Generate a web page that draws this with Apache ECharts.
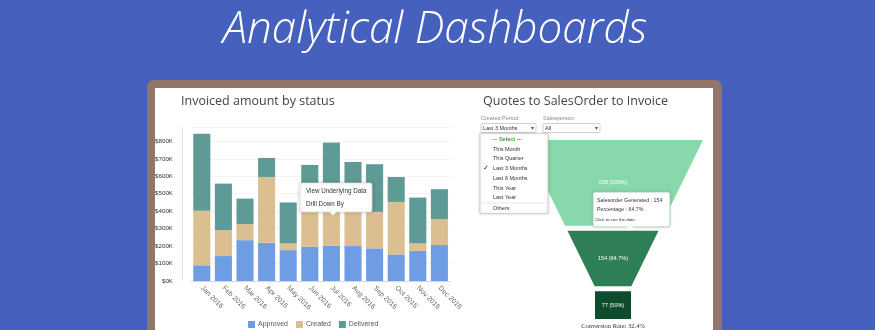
<!DOCTYPE html>
<html>
<head>
<meta charset="utf-8">
<script src="https://cdn.jsdelivr.net/npm/echarts@6/dist/echarts.min.js"></script>
<style>
  html, body { margin: 0; padding: 0; background: #4561bd; }
  #main { width: 875px; height: 330px; }
</style>
</head>
<body>
<div id="main"></div>
<script>
// invoiced amount by status (in dollars)
var months = ['Jan 2016', 'Feb 2016', 'Mar 2016', 'Apr 2016', 'May 2016', 'Jun 2016',
              'Jul 2016', 'Aug 2016', 'Sep 2016', 'Oct 2016', 'Nov 2016', 'Dec 2016'];
var approved  = [90000, 143000, 234000, 219000, 177000, 196000, 202000, 200000, 187000, 152000, 173000, 206000];
var created   = [312000, 148000, 92000, 377000, 38000, 324000, 328000, 300000, 209000, 301000, 42000, 148000];
var delivered = [442000, 267000, 146000, 109000, 235000, 145000, 263000, 182000, 273000, 143000, 263000, 172000];

// quotes -> sales order -> invoice
var stageNames  = ['Quotes Created', 'Salesorder Generated', 'Invoiced'];
var stageValues = [238, 154, 77];

var periodOptions = ['This Month', 'This Quarter', 'Last 3 Months', 'Last 6 Months', 'This Year', 'Last Year'];

var barColors = ['#6f9de3', '#dcbf90', '#5f9b96'];
var stageColors = ['#87d8aa', '#2f7f56', '#0d4d2d'];
var FUNNEL_GAP = 5, NECK = 36, SLOPE = 0.98;

var chart = echarts.init(document.getElementById('main'));

// cumulative starts for the funnel layers
var funnelData = [];
var acc = 0;
for (var i = 0; i < stageValues.length; i++) {
  var pct = i === 0 ? 100 : stageValues[i] / stageValues[i - 1] * 100;
  funnelData.push([acc, stageValues[i], +pct.toFixed(1)]);
  acc += stageValues[i];
}
var total = acc;
var convRate = (stageValues[stageValues.length - 1] / stageValues[0] * 100).toFixed(1);

function kfmt(v) { return '$' + Math.round(v / 1000) + 'K'; }

function txt(x, y, s, extra) {
  var st = { text: s, x: x, y: y, fontFamily: 'Liberation Sans', fontSize: 6, fill: '#333', verticalAlign: 'middle' };
  for (var k in extra) st[k] = extra[k];
  return { type: 'text', z: 101, style: st };
}

var graphics = [
  // frame and panel
  { type: 'rect', z: -2, shape: { x: 147, y: 80, width: 575, height: 300, r: 7 }, style: { fill: '#93756a' } },
  { type: 'rect', z: -1, shape: { x: 155, y: 88, width: 558, height: 300 }, style: { fill: '#ffffff' } },
  { type: 'text', z: 5, style: { text: 'Analytical Dashboards', x: 435, y: 30, align: 'center', verticalAlign: 'middle',
      fontFamily: 'Open Sans', fontStyle: 'italic', fontWeight: 300, fontSize: 44, fill: '#ffffff' } },
  { type: 'text', z: 5, style: { text: 'Invoiced amount by status', x: 181, y: 101, verticalAlign: 'middle',
      fontFamily: 'Open Sans', fontSize: 12.5, fill: '#444' } },
  { type: 'text', z: 5, style: { text: 'Quotes to SalesOrder to Invoice', x: 483, y: 101, verticalAlign: 'middle',
      fontFamily: 'Open Sans', fontSize: 12.5, fill: '#444' } },

  // filters
  txt(481, 118, 'Created Period:', { fontSize: 5.5, fill: '#888' }),
  txt(543, 118, 'Salesperson:', { fontSize: 5.5, fill: '#888' }),
  { type: 'rect', z: 100, shape: { x: 481, y: 123.5, width: 55, height: 9, r: 1 }, style: { fill: '#fff', stroke: '#bbb', lineWidth: 0.7 } },
  txt(483, 128, periodOptions[2], { fontSize: 5.5 }),
  txt(532, 128, '▾', { fontSize: 6, align: 'center', fill: '#555' }),
  { type: 'rect', z: 100, shape: { x: 543, y: 123.5, width: 57, height: 9, r: 1 }, style: { fill: '#fff', stroke: '#bbb', lineWidth: 0.7 } },
  txt(545, 128, 'All', { fontSize: 5.5 }),
  txt(596, 128, '▾', { fontSize: 6, align: 'center', fill: '#555' }),

  // dropdown list
  { type: 'rect', z: 100, shape: { x: 480, y: 133.5, width: 68, height: 80 },
    style: { fill: '#fff', stroke: '#ccc', lineWidth: 0.7, shadowBlur: 3, shadowColor: 'rgba(0,0,0,0.2)' } },
  txt(507, 139, '--- Select ---', { fontSize: 5.5, fill: '#3a9a3a', fontWeight: 'bold', align: 'center' }),
  { type: 'line', z: 101, shape: { x1: 481, y1: 203, x2: 547, y2: 203 }, style: { stroke: '#ddd', lineWidth: 0.7 } },
  txt(493, 208, 'Others', { fontSize: 5.5 }),
  txt(483, 168, '✓', { fontSize: 6.5, fill: '#222' }),

  // context menu on bar chart
  { type: 'rect', z: 100, shape: { x: 300, y: 183, width: 72, height: 29, r: 2 },
    style: { fill: '#fff', stroke: '#e2e2e2', lineWidth: 0.7, shadowBlur: 4, shadowColor: 'rgba(0,0,0,0.2)' } },
  { type: 'polygon', z: 100, shape: { points: [[329, 211.5], [337, 211.5], [333, 215.5]] }, style: { fill: '#fff' } },
  txt(306, 191.5, 'View Underlying Data', { fontSize: 6.3, fill: '#333' }),
  txt(306, 204, 'Drill Down By', { fontSize: 6.3, fill: '#333' }),

  // funnel tooltip
  { type: 'rect', z: 100, shape: { x: 593, y: 192, width: 77, height: 35, r: 2 },
    style: { fill: '#fff', stroke: '#9fcfb2', lineWidth: 0.8, shadowBlur: 3, shadowColor: 'rgba(0,0,0,0.15)' } },
  { type: 'polygon', z: 100, shape: { points: [[626, 226.5], [634, 226.5], [630, 231]] }, style: { fill: '#fff' } },
  txt(597, 200.5, stageNames[1] + ' : ' + stageValues[1], { fontSize: 5.3, fill: '#333' }),
  txt(597, 209.5, 'Percentage : ' + funnelData[1][2] + '%', { fontSize: 5.3, fill: '#333' }),
  txt(595, 220, 'Click to see the data', { fontSize: 4.4, fill: '#333' }),

  txt(613, 326, 'Conversion Rate: ' + convRate + '%', { fontSize: 6.5, fill: '#333', align: 'center', fontFamily: 'Liberation Serif' })
];

var optY = [149, 158.5, 168, 178, 188, 197.5];
for (var j = 0; j < periodOptions.length; j++) {
  graphics.push(txt(493, optY[j], periodOptions[j], { fontSize: 5.5 }));
}

chart.setOption({
  backgroundColor: '#4561bd',
  animation: false,
  graphic: { elements: graphics },
  grid: [
    { left: 191, width: 259.2, top: 127.4, height: 153.6 },
    { left: 523, width: 180, top: 140, height: 169 }
  ],
  legend: {
    left: 243, top: 316, itemWidth: 7, itemHeight: 7, itemGap: 8,
    icon: 'rect',
    textStyle: { fontSize: 7, color: '#555', fontFamily: 'Liberation Sans', padding: [0, 0, 0, -2] },
    data: ['Approved', 'Created', 'Delivered']
  },
  xAxis: [
    {
      type: 'category', gridIndex: 0, data: months,
      axisLine: { lineStyle: { color: '#d8d8d8' } },
      axisTick: { show: false },
      axisLabel: { rotate: -45, fontSize: 7, color: '#666', margin: 6, fontFamily: 'Liberation Sans' }
    },
    { type: 'value', gridIndex: 1, min: -1, max: 1, show: false }
  ],
  yAxis: [
    {
      type: 'value', gridIndex: 0, min: 0, max: 880000, interval: 100000, offset: 9,
      axisLine: { show: true, lineStyle: { color: '#e4e4e4' } },
      axisTick: { show: false },
      splitLine: { lineStyle: { color: '#f3f3f3' } },
      axisLabel: { showMaxLabel: false, fontSize: 6.2, color: '#333', margin: 9, fontFamily: 'Liberation Sans',
        formatter: kfmt }
    },
    { type: 'value', gridIndex: 1, min: 0, max: total, inverse: true, show: false }
  ],
  series: [
    { name: 'Approved', type: 'bar', stack: 'amt', data: approved, itemStyle: { color: barColors[0] }, barCategoryGap: '21%' },
    { name: 'Created', type: 'bar', stack: 'amt', data: created, itemStyle: { color: barColors[1] } },
    { name: 'Delivered', type: 'bar', stack: 'amt', data: delivered, itemStyle: { color: barColors[2] } },
    {
      type: 'custom', xAxisIndex: 1, yAxisIndex: 1, data: funnelData,
      renderItem: function (params, api) {
        var idx = params.dataIndex;
        var start = api.value(0), val = api.value(1);
        var cs = params.coordSys;
        var yTop = api.coord([0, start])[1] + idx * FUNNEL_GAP;
        var yBot = api.coord([0, start + val])[1] + idx * FUNNEL_GAP;
        var cx = cs.x + cs.width / 2;
        var w = function (y) { return Math.max(NECK, cs.width - (y - cs.y) * SLOPE); };
        var last = idx === stageValues.length - 1;
        var wt = last ? NECK : w(yTop), wb = last ? NECK : w(yBot);
        return {
          type: 'group',
          children: [
            { type: 'polygon', shape: { points: [[cx - wt / 2, yTop], [cx + wt / 2, yTop], [cx + wb / 2, yBot], [cx - wb / 2, yBot]] },
              style: { fill: stageColors[idx] } },
            { type: 'text', style: { text: val + ' (' + api.value(2) + '%)', x: cx, y: (yTop + yBot) / 2,
                align: 'center', verticalAlign: 'middle', fontSize: 5.5, fill: '#fff', fontFamily: 'Liberation Sans' } }
          ]
        };
      }
    }
  ]
});
</script>
</body>
</html>
